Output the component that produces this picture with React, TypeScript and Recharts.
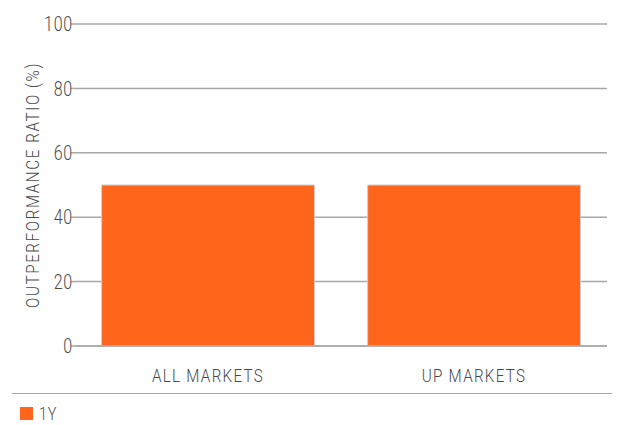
import React from "react";
import { BarChart, Bar, XAxis, YAxis, CartesianGrid, Legend } from "recharts";

const categories = ["ALL MARKETS", "UP MARKETS"];
const oneYear = [50, 50];
const yTicks = [0, 20, 40, 60, 80, 100];
const seriesName = "1Y";
const yTitle = "OUTPERFORMANCE RATIO (%)";

const data = categories.map((name, i) => ({ name, [seriesName]: oneYear[i] }));

const FONT = "Roboto, 'Noto Sans', sans-serif";
const ORANGE = "#FF661B";
const TEXT = "#4a4a4a";
const LINE = "#a8a8a8";
const SQUEEZE = 0.8;

// Condensed light text: Roboto Light squeezed horizontally
const CondText = ({ x, y, anchor, size, rotate = 0, spacing = 1, children }: any) => (
  <text
    transform={`translate(${x},${y}) rotate(${rotate}) scale(${SQUEEZE},1)`}
    textAnchor={anchor}
    dominantBaseline="central"
    fill={TEXT}
    fontFamily={FONT}
    fontWeight={300}
    fontSize={size}
    letterSpacing={spacing}
  >
    {children}
  </text>
);

const XTick = ({ x, y, payload }: any) => (
  <CondText x={x} y={y + 1} anchor="middle" size={19} spacing={1.6}>
    {payload.value}
  </CondText>
);

const YTick = ({ x, y, payload }: any) => (
  <CondText x={x + 2} y={y} anchor="end" size={20} spacing={1}>
    {payload.value}
  </CondText>
);

const YTitle = ({ viewBox }: any) => (
  <CondText x={32} y={viewBox.y + viewBox.height / 2} anchor="middle" size={19} rotate={-90} spacing={2}>
    {yTitle}
  </CondText>
);

const LegendContent = () => (
  <div style={{ width: 600, borderTop: `1px solid ${LINE}`, marginTop: 7, paddingTop: 10, fontFamily: FONT, fontWeight: 300, fontSize: 18, color: TEXT }}>
    <div style={{ display: "flex", alignItems: "center", paddingLeft: 8, height: 18 }}>
      <span style={{ display: "inline-block", width: 13, height: 13, background: ORANGE, marginRight: 6 }} />
      <span style={{ display: "inline-block", transform: `scaleX(${SQUEEZE})`, transformOrigin: "left center", letterSpacing: 1 }}>{seriesName}</span>
    </div>
  </div>
);

export default function App() {
  return (
    <div style={{ position: "absolute", left: 0, top: 0, width: 617, height: 425, background: "#fff" }}>
      <BarChart
        width={617}
        height={425}
        data={data}
        margin={{ top: 24, right: 10, left: 0, bottom: 0 }}
        barCategoryGap="10%"
      >
        <CartesianGrid vertical={false} stroke={LINE} strokeWidth={1.5} />
        <XAxis
          dataKey="name"
          axisLine={{ stroke: LINE, strokeWidth: 1.5 }}
          tickLine={false}
          tickMargin={22}
          height={40}
          tick={<XTick />}
        />
        <YAxis
          width={75}
          domain={[0, 100]}
          ticks={yTicks}
          axisLine={false}
          tickLine={{ stroke: LINE, strokeWidth: 1.5 }}
          tickSize={4}
          tickMargin={0}
          tick={<YTick />}
          label={<YTitle />}
        />
        <Legend
          verticalAlign="bottom"
          content={<LegendContent />}
          wrapperStyle={{ left: 12, width: 600, height: 39 }}
        />
        <Bar dataKey={seriesName} fill={ORANGE} stroke="#cfcfcf" strokeWidth={1} isAnimationActive={false} />
      </BarChart>
    </div>
  );
}
